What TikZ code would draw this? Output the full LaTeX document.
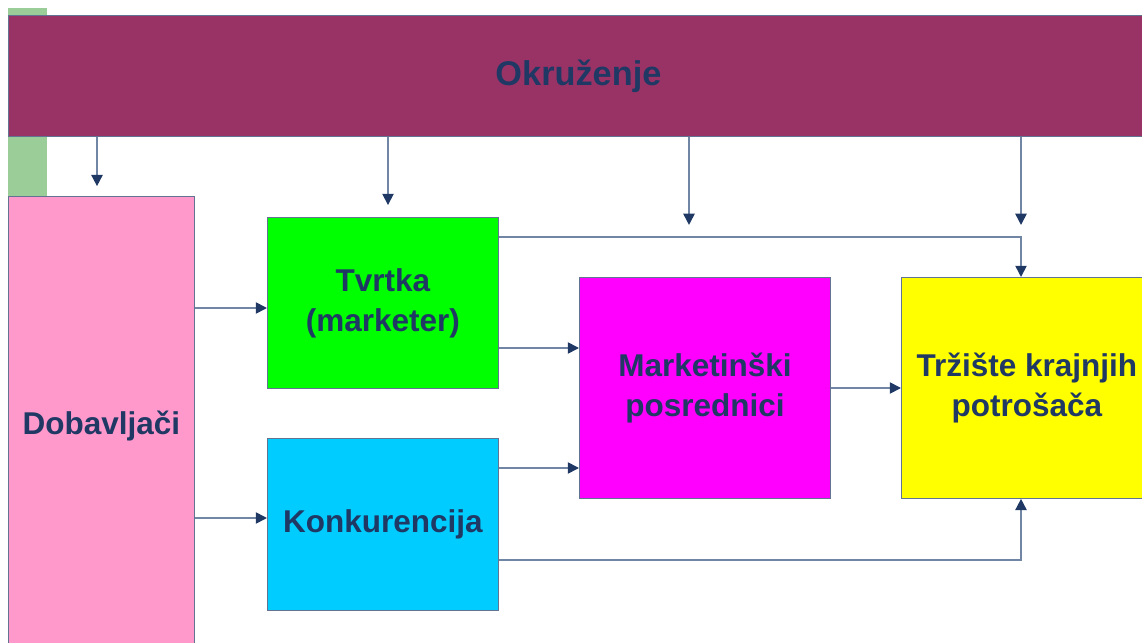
\documentclass[tikz,border=0pt]{standalone}
\usepackage{fontspec}
\setmainfont{Liberation Sans}
\usetikzlibrary{arrows.meta,positioning}
\definecolor{txtnavy}{HTML}{1F3864}
\definecolor{linegray}{HTML}{7186A5}
\definecolor{okrfill}{HTML}{993366}
\definecolor{stripe}{HTML}{9BCD98}
\definecolor{dobfill}{HTML}{FF99CC}
\definecolor{tvrfill}{HTML}{00FF00}
\definecolor{konfill}{HTML}{00CCFF}
\definecolor{mrkfill}{HTML}{FF00FF}
\definecolor{trzfill}{HTML}{FFFF00}

\begin{document}
\begin{tikzpicture}[x=0.025cm,y=-0.025cm,
  box/.style={draw=txtnavy!70,line width=0.6pt,inner sep=0pt,align=center,text=txtnavy,
    font=\bfseries\fontsize{22.4}{28.5}\selectfont},
  con/.style={draw=linegray,line width=1.2pt,-{Triangle[length=8pt,width=8pt,color=txtnavy]}}]
\useasboundingbox (0,0) rectangle (1142,643);
\fill[stripe] (8,8) rectangle (47,196);
\node[box,fill=okrfill,minimum width=1140*0.025cm,minimum height=121*0.025cm,anchor=north west,
  font=\bfseries\fontsize{24.4}{29}\selectfont] (okr) at (8,15) {Okruženje};
\node[box,fill=dobfill,minimum width=186*0.025cm,minimum height=460*0.025cm,anchor=north west] (dob) at (8,196) {Dobavljači};
\node[box,fill=tvrfill,minimum width=231*0.025cm,minimum height=171*0.025cm,anchor=north west] (tvr) at (267,217) {Tvrtka\\(marketer)};
\node[box,fill=konfill,minimum width=231*0.025cm,minimum height=172*0.025cm,anchor=north west] (kon) at (267,438) {Konkurencija};
\node[box,fill=mrkfill,minimum width=251*0.025cm,minimum height=221*0.025cm,anchor=north west] (mrk) at (579,277) {Marketinški\\posrednici};
\node[box,fill=trzfill,minimum width=251*0.025cm,minimum height=221*0.025cm,anchor=north west] (trz) at (901,277) {Tržište krajnjih\\potrošača};
% okruzenje djeluje na sve
\draw[con,shorten >=7pt] (okr.south -| 97,0) -- (dob.north -| 97,0);
\draw[con,shorten >=8.5pt] (okr.south -| 388,0) -- (tvr.north -| 388,0);
\draw[con,shorten >=37pt] (okr.south -| 689,0) -- (mrk.north -| 689,0);
\draw[con,shorten >=37pt] (okr.south -| 1021,0) -- (trz.north -| 1021,0);
% tokovi
\draw[con] (dob.east |- 0,308) -- (tvr.west |- 0,308);
\draw[con] (dob.east |- 0,518) -- (kon.west |- 0,518);
\draw[con] (tvr.east |- 0,348) -- (mrk.west |- 0,348);
\draw[con] (kon.east |- 0,468) -- (mrk.west |- 0,468);
\draw[con] (mrk.east |- 0,388) -- (trz.west |- 0,388);
\draw[con] (tvr.east |- 0,237) -| (trz.north -| 1021,0);
\draw[con] (kon.east |- 0,560) -| (trz.south -| 1021,0);
\end{tikzpicture}
\end{document}
